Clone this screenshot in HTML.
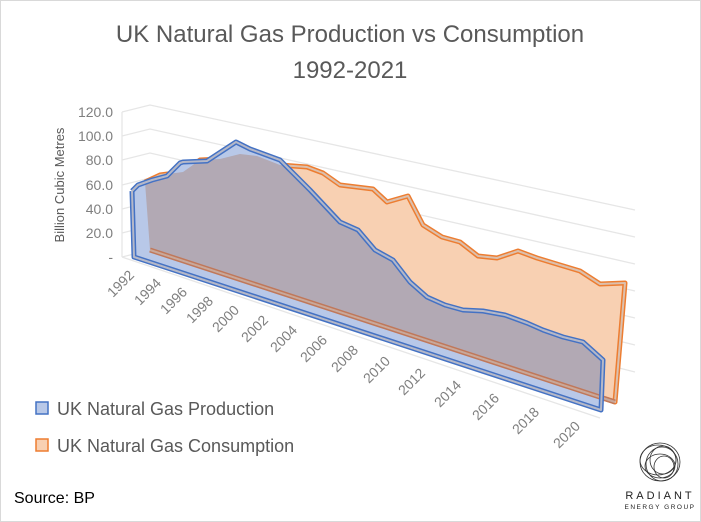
<!DOCTYPE html>
<html><head><meta charset="utf-8"><style>
html,body{margin:0;padding:0;background:#fff}
svg{display:block;font-family:"Liberation Sans",sans-serif}
</style></head><body>
<svg width="701" height="522" viewBox="0 0 701 522" xmlns="http://www.w3.org/2000/svg">
<rect x="0.5" y="0.5" width="700" height="521" fill="#fff" stroke="#d9d9d9"/>
<text x="350" y="42" text-anchor="middle" font-size="24" fill="#595959">UK Natural Gas Production vs Consumption</text>
<text x="350" y="78" text-anchor="middle" font-size="24" fill="#595959">1992-2021</text>
<!-- grid -->
<g stroke="#e6e6e6" stroke-width="1.3" fill="none">
<polyline points="122,112 150,105 635,210"/>
<polyline points="122,136 150,129 635,237"/>
<polyline points="122,160 150,153 635,264"/>
<polyline points="122,185 150,178 635,291"/>
<polyline points="122,209 150,202 635,318"/>
<polyline points="122,233 150,226 635,345"/>
<polyline points="122,257 150,250 635,372"/>
<line x1="122" y1="112" x2="122" y2="257"/>
<line x1="122" y1="257" x2="600" y2="418"/>
</g>
<g font-size="14" fill="#7f7f7f" text-anchor="end">
<text x="113" y="117">120.0</text><text x="113" y="141">100.0</text><text x="113" y="165">80.0</text>
<text x="113" y="190">60.0</text><text x="113" y="214">40.0</text><text x="113" y="238">20.0</text>
<text x="113" y="262">-</text>
</g>
<text transform="translate(64,185) rotate(-90)" text-anchor="middle" font-size="13" fill="#595959">Billion Cubic Metres</text>
<defs>
<clipPath id="cons"><polygon points="145,182 160,175 183,172 200,160 220,159 240,154 257,156 280,165 307,167 323,173 340,185 373,189 387,202 408,196 423,225 442,237 460,242 478,256 497,258 518,251 537,258 560,265 580,271 600,284 625,283 615,402 150,250"/></clipPath>
</defs>
<!-- consumption -->
<polygon points="145,182 160,175 183,172 200,160 220,159 240,154 257,156 280,165 307,167 323,173 340,185 373,189 387,202 408,196 423,225 442,237 460,242 478,256 497,258 518,251 537,258 560,265 580,271 600,284 625,283 615,402 150,250" fill="#f8d0b2"/>
<polyline points="145,182 160,175 183,172 200,160 220,159 240,154 257,156 280,165 307,167 323,173 340,185 373,189 387,202 408,196 423,225 442,237 460,242 478,256 497,258 518,251 537,258 560,265 580,271 600,284 625,283 615,402 150,250 145,182" fill="none" stroke="#ed7d31" stroke-width="5" stroke-linejoin="round"/>
<polyline points="145,182 160,175 183,172 200,160 220,159 240,154 257,156 280,165 307,167 323,173 340,185 373,189 387,202 408,196 423,225 442,237 460,242 478,256 497,258 518,251 537,258 560,265 580,271 600,284 625,283 615,402 150,250 145,182" fill="none" stroke="#dcc0ad" stroke-width="2" stroke-linejoin="round"/>
<!-- production -->
<polygon id="p" points="132,191 138,185 152,180 167,176 180,163 183,162 207,161 236,142 250,149 280,160 310,190 340,222 358,230 375,250 393,260 410,282 427,297 445,305 463,310 483,311 505,315 527,323 543,330 563,337 583,342 603,360 601,410 134,257" fill="#b8c8e8"/>
<polygon points="132,191 138,185 152,180 167,176 180,163 183,162 207,161 236,142 250,149 280,160 310,190 340,222 358,230 375,250 393,260 410,282 427,297 445,305 463,310 483,311 505,315 527,323 543,330 563,337 583,342 603,360 601,410 134,257" fill="#b2a9b4" clip-path="url(#cons)"/>
<line x1="150" y1="250" x2="615" y2="402" stroke="#c0785a" stroke-width="5"/>
<line x1="150" y1="250" x2="615" y2="402" stroke="#c9a89a" stroke-width="2"/>
<polyline points="132,191 138,185 152,180 167,176 180,163 183,162 207,161 236,142 250,149 280,160 310,190 340,222 358,230 375,250 393,260 410,282 427,297 445,305 463,310 483,311 505,315 527,323 543,330 563,337 583,342 603,360 601,410 134,257 132,191" fill="none" stroke="#4472c4" stroke-width="5" stroke-linejoin="round"/>
<polyline points="132,191 138,185 152,180 167,176 180,163 183,162 207,161 236,142 250,149 280,160 310,190 340,222 358,230 375,250 393,260 410,282 427,297 445,305 463,310 483,311 505,315 527,323 543,330 563,337 583,342 603,360 601,410 134,257 132,191" fill="none" stroke="#b5b8c8" stroke-width="2" stroke-linejoin="round"/>
<!-- x labels -->
<g font-size="14" fill="#7f7f7f" text-anchor="end">
<text transform="translate(135,276) rotate(-45)">1992</text>
<text transform="translate(162,284) rotate(-45)">1994</text>
<text transform="translate(188,293) rotate(-45)">1996</text>
<text transform="translate(214,302) rotate(-45)">1998</text>
<text transform="translate(240,311) rotate(-45)">2000</text>
<text transform="translate(269,321) rotate(-45)">2002</text>
<text transform="translate(298,331) rotate(-45)">2004</text>
<text transform="translate(328,341) rotate(-45)">2006</text>
<text transform="translate(359,351) rotate(-45)">2008</text>
<text transform="translate(391,362) rotate(-45)">2010</text>
<text transform="translate(426,374) rotate(-45)">2012</text>
<text transform="translate(462,386) rotate(-45)">2014</text>
<text transform="translate(500,399) rotate(-45)">2016</text>
<text transform="translate(540,413) rotate(-45)">2018</text>
<text transform="translate(581,427) rotate(-45)">2020</text>
</g>
<!-- legend -->
<rect x="36" y="402" width="12" height="12" fill="#b8c8e8" stroke="#4472c4" stroke-width="1.5"/>
<text x="57" y="415" font-size="18" fill="#595959">UK Natural Gas Production</text>
<rect x="36" y="439" width="12" height="12" fill="#f8d0b2" stroke="#ed7d31" stroke-width="1.5"/>
<text x="57" y="452" font-size="18" fill="#595959">UK Natural Gas Consumption</text>
<text x="14" y="503" font-size="16" fill="#000">Source: BP</text>
<!-- logo -->
<g fill="none" stroke="#333" stroke-width="0.8">
<ellipse cx="660" cy="462" rx="20" ry="19"/>
<ellipse cx="662" cy="464" rx="16" ry="17"/>
<ellipse cx="658" cy="460" rx="18" ry="15"/>
<ellipse cx="663" cy="460" rx="13" ry="14"/>
<ellipse cx="660" cy="466" rx="15" ry="12"/>
<ellipse cx="664" cy="467" rx="10" ry="11"/>
</g>
<text x="660" y="499" text-anchor="middle" font-size="11" letter-spacing="3" fill="#222">RADIANT</text>
<text x="660" y="509" text-anchor="middle" font-size="6.5" letter-spacing="1.5" fill="#222">ENERGY GROUP</text>
</svg>
</body></html>
